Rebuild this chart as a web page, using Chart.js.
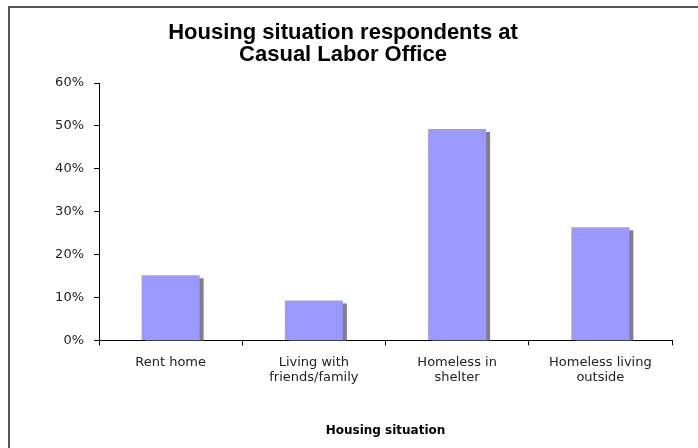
<!DOCTYPE html>
<html>
<head>
<meta charset="utf-8">
<script src="https://cdn.jsdelivr.net/npm/chart.js@4/dist/chart.umd.min.js"></script>
<style>
    html, body { margin: 0; padding: 0; background: #fff; }
</style>
</head>
<body>
<canvas id="myChart" width="698" height="448"></canvas>
<script>
// Chart data
const categories = [
    ["Rent home"],
    ["Living with", "friends/family"],
    ["Homeless in", "shelter"],
    ["Homeless living", "outside"],
];
const shares = [0.152, 0.093, 0.493, 0.264]; // share of respondents
const yTickValues = [0, 0.1, 0.2, 0.3, 0.4, 0.5, 0.6];
const chartTitle = ["Housing situation respondents at", "Casual Labor Office"];
const xAxisTitle = "Housing situation";

// white page with the grey frame lines on top and left
const framePlugin = {
    id: "frame",
    beforeDraw(chart) {
        const ctx = chart.ctx;
        ctx.save();
        ctx.fillStyle = "#fff";
        ctx.fillRect(0, 0, chart.width, chart.height);
        ctx.strokeStyle = "#555";
        ctx.lineWidth = 2;
        ctx.beginPath();
        ctx.moveTo(9, chart.height);
        ctx.lineTo(9, 7);
        ctx.lineTo(chart.width, 7);
        ctx.stroke();
        ctx.restore();
    },
};

// hard grey drop shadow behind the bars
const shadowPlugin = {
    id: "barShadow",
    beforeDatasetsDraw(chart) {
        const ctx = chart.ctx;
        ctx.save();
        ctx.shadowColor = "#808080";
        ctx.shadowOffsetX = 4;
        ctx.shadowOffsetY = 3;
        ctx.shadowBlur = 0;
    },
    afterDatasetsDraw(chart) {
        chart.ctx.restore();
    },
};

const ctx = document.getElementById("myChart").getContext("2d");
const chart = new Chart(ctx, {
    type: "bar",
    data: {
        labels: categories,
        datasets: [
            {
                label: "Share",
                data: shares,
                backgroundColor: "#9999FF",
                borderWidth: 0,
                categoryPercentage: 1,
                barPercentage: 0.405,
                clip: 0,
            },
        ],
    },
    plugins: [framePlugin, shadowPlugin],
    options: {
        responsive: false,
        animation: false,
        layout: {
            padding: { left: 14, right: 26, top: 6, bottom: 10 },
        },
        plugins: {
            legend: { display: false },
            tooltip: { enabled: false },
            title: {
                display: true,
                text: chartTitle,
                color: "#000",
                font: { family: "Liberation Sans", size: 22, weight: "bold", lineHeight: 1.0 },
                padding: { top: 16, bottom: 17 },
            },
        },
        scales: {
            x: {
                z: 1,
                grid: {
                    drawOnChartArea: false,
                    drawTicks: true,
                    tickLength: 5,
                    color: "#000",
                },
                border: { color: "#000", width: 1 },
                ticks: {
                    color: "#222",
                    font: { family: "DejaVu Sans", size: 13, lineHeight: 1.2 },
                    padding: 9,
                    maxRotation: 0,
                    autoSkip: false,
                },
                title: {
                    display: true,
                    text: xAxisTitle,
                    color: "#000",
                    font: { family: "DejaVu Sans", size: 12, weight: "bold" },
                    padding: { top: 29, bottom: 0 },
                },
            },
            y: {
                z: 1,
                min: 0,
                max: 0.6,
                afterBuildTicks(scale) {
                    scale.ticks = yTickValues.map((v) => ({ value: v }));
                },
                afterFit(scale) {
                    scale.width = 85;
                },
                grid: {
                    drawOnChartArea: false,
                    drawTicks: true,
                    tickLength: 5,
                    color: "#000",
                },
                border: { color: "#000", width: 1 },
                ticks: {
                    color: "#222",
                    font: { family: "DejaVu Sans", size: 13 },
                    padding: 10,
                    callback: (v) => Math.round(v * 100) + "%",
                },
            },
        },
    },
});
</script>
</body>
</html>
